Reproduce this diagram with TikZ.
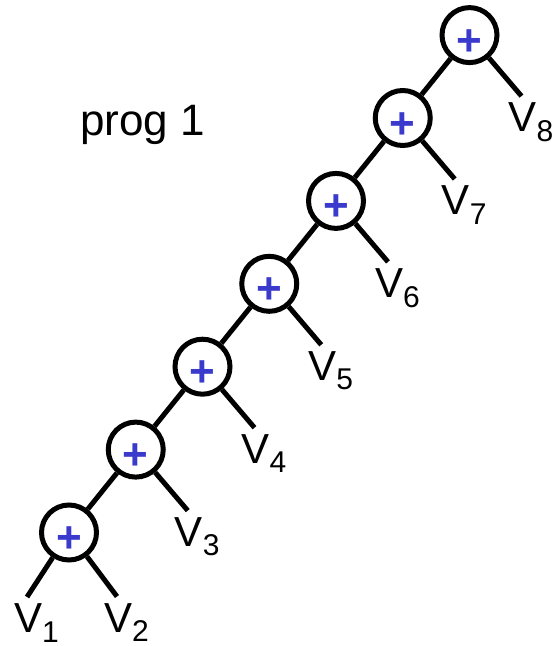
\documentclass[tikz,border=0pt]{standalone}
\usepackage{fontspec}
\setmainfont{Liberation Sans}
\usetikzlibrary{calc}
\definecolor{plusblue}{RGB}{58,58,204}
\newcommand{\leaflab}[1]{V\raisebox{-9.5pt}{\fontsize{30}{30}\selectfont #1}}
\begin{document}
\begin{tikzpicture}[x=1pt,y=-1pt,
  opnode/.style={circle,draw=black,line width=5pt,fill=white,minimum size=55pt,inner sep=0pt},
  plussign/.style={anchor=base,inner sep=0pt,text=plusblue,font=\fontsize{44}{44}\selectfont\bfseries},
  treeedge/.style={line width=5pt,draw=black},
  leaflabel/.style={anchor=north west,inner sep=0pt,font=\fontsize{42}{42}\selectfont},
  titletext/.style={anchor=base west,inner sep=0pt,font=\fontsize{44}{44}\selectfont}]
\useasboundingbox (0,0) rectangle (555,646);
\foreach \k in {2,...,8}{
  \pgfmathsetmacro{\cx}{69+(\k-2)*66.75}
  \pgfmathsetmacro{\cy}{532.5-(\k-2)*82.9}
  \node[opnode] (n\k) at (\cx,\cy) {};
  \node[plussign] (p\k) at (\cx,\cy+20) {+};
}
% leaf end points
\coordinate (e1) at ($(n2)+(-42,64.5)$);
\coordinate (e2) at ($(n2)+(48,64)$);
\foreach \k in {3,...,8}{
  \coordinate (e\k) at ($(n\k)+(52,61)$);
}
% tree edges
\foreach \k [evaluate=\k as \j using int(\k+1)] in {2,...,7}{
  \draw[treeedge] (n\k) -- (n\j);
}
\draw[treeedge] (n2) -- (e1);
\foreach \k in {2,...,8}{
  \draw[treeedge] (n\k) -- (e\k);
}
% labels
\foreach \k in {1,...,8}{
  \node[leaflabel] (v\k) at ($(e\k)+(-13,6.5)$) {\leaflab{\k}};
}
\node[titletext] (title) at (80,135) {prog 1};
\end{tikzpicture}
\end{document}
